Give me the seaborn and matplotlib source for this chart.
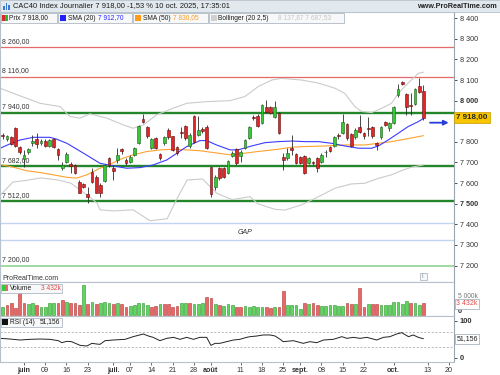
"""
CAC40 journalier (style ProRealTime) : bougies, SMA 20/50, Bollinger,
niveaux horizontaux, volume et RSI.
"""
import numpy as np
import pandas as pd
import seaborn as sns
import matplotlib.pyplot as plt
from matplotlib.patches import Rectangle

# séances : index 0 = 26 mai 2025 ... 99 = 10 oct. 2025
opens = [7832, 7813, 7822, 7866, 7774, 7715, 7751, 7793, 7813, 7793,
         7806, 7780, 7813, 7764, 7672, 7704, 7693, 7688, 7607, 7596,
         7547, 7656, 7631, 7591, 7612, 7720, 7675, 7712, 7764, 7712,
         7701, 7737, 7796, 7910, 7871, 7769, 7817, 7741, 7793, 7858,
         7826, 7774, 7850, 7877, 7780, 7926, 7834, 7861, 7874, 7677,
         7583, 7672, 7672, 7651, 7732, 7764, 7732, 7769, 7817, 7921,
         7926, 7893, 7971, 7968, 7922, 7942, 7728, 7720, 7769, 7741,
         7725, 7732, 7699, 7704, 7720, 7704, 7749, 7774, 7780, 7834,
         7845, 7887, 7839, 7822, 7871, 7845, 7868, 7871, 7796, 7822,
         7898, 7866, 7893, 8028, 8092, 8032, 7979, 7984, 8071, 8049]
highs = [7845, 7835, 7830, 7870, 7778, 7761, 7770, 7834, 7842, 7815,
         7812, 7815, 7820, 7770, 7704, 7750, 7704, 7693, 7615, 7600,
         7583, 7672, 7640, 7600, 7693, 7725, 7688, 7769, 7770, 7720,
         7735, 7775, 7882, 7935, 7877, 7820, 7822, 7745, 7830, 7866,
         7830, 7780, 7874, 7882, 7842, 7931, 7926, 7870, 7880, 7680,
         7640, 7677, 7677, 7712, 7756, 7770, 7760, 7815, 7877, 7931,
         7935, 7985, 8003, 7972, 7998, 7946, 7745, 7770, 7834, 7745,
         7730, 7737, 7728, 7709, 7725, 7745, 7760, 7780, 7830, 7842,
         7935, 7893, 7845, 7866, 7931, 7850, 7919, 7877, 7801, 7877,
         7903, 7898, 7972, 8080, 8095, 8038, 8035, 8060, 8108, 8075]
lows = [7815, 7805, 7785, 7775, 7742, 7680, 7740, 7780, 7769, 7785,
        7775, 7775, 7769, 7712, 7664, 7699, 7647, 7645, 7550, 7575,
        7505, 7600, 7550, 7534, 7607, 7680, 7615, 7699, 7740, 7690,
        7696, 7730, 7790, 7890, 7820, 7764, 7764, 7712, 7785, 7815,
        7756, 7737, 7817, 7809, 7769, 7796, 7826, 7845, 7764, 7530,
        7565, 7615, 7625, 7645, 7725, 7690, 7700, 7764, 7813, 7906,
        7870, 7887, 7940, 7935, 7916, 7838, 7664, 7712, 7737, 7693,
        7693, 7645, 7693, 7690, 7655, 7696, 7725, 7750, 7775, 7815,
        7840, 7810, 7775, 7815, 7842, 7815, 7826, 7820, 7761, 7815,
        7875, 7855, 7887, 8020, 8075, 7930, 7931, 7978, 8035, 7906]
closes = [7826, 7826, 7790, 7780, 7749, 7737, 7764, 7806, 7790, 7806,
          7780, 7809, 7774, 7737, 7688, 7741, 7683, 7651, 7554, 7583,
          7534, 7607, 7554, 7554, 7688, 7688, 7659, 7737, 7756, 7696,
          7725, 7769, 7877, 7897, 7826, 7813, 7769, 7720, 7822, 7822,
          7761, 7745, 7842, 7817, 7834, 7801, 7858, 7855, 7769, 7547,
          7631, 7623, 7631, 7709, 7745, 7696, 7753, 7809, 7871, 7916,
          7877, 7979, 7947, 7942, 7971, 7842, 7712, 7745, 7762, 7699,
          7699, 7651, 7720, 7696, 7672, 7737, 7750, 7757, 7822, 7826,
          7898, 7817, 7780, 7858, 7850, 7826, 7864, 7826, 7785, 7871,
          7882, 7893, 7968, 8055, 8081, 7971, 7975, 8055, 8041, 7918]

# volume en milliers, couleur (g = hausse, r = baisse)
volumes = [2410, 2921, 3636, 2104, 6495, 3431, 3329, 3636, 2921, 2410,
           2410, 3431, 3431, 3431, 4453, 3738, 3431, 3431, 2921, 9039,
           3125, 3942, 3125, 3431, 3738, 3636, 3125, 3431, 3125, 2410,
           2614, 2921, 3534, 3431, 2921, 2410, 2614, 3125, 3329, 3227,
           2410, 2716, 3431, 3431, 3431, 3125, 3329, 3431, 5474, 4964,
           3227, 2921, 2614, 3227, 2921, 2410, 2410, 2614, 2410, 2614,
           2206, 2206, 2206, 1899, 2206, 2206, 7201, 2921, 2921, 2921,
           1593, 3431, 3227, 3431, 2921, 2716, 2716, 2921, 2921, 2716,
           2716, 3431, 3125, 3227, 8018, 2206, 3125, 3227, 3125, 2921,
           2921, 2921, 3738, 3738, 3227, 4147, 3431, 3431, 2921, 3432]
vol_dir = ("grrrrrggrg" "gggrrgrrrg" "rgrgggrgrr" "gggggrrgrr" "rrggrgggrr"
           "grgggrrggg" "ggrrgrrggg" "grgrrggggg" "grrgrrgrrg" "ggggggrggr")

# moyennes mobiles et bandes de Bollinger (position en séances, valeur)
sma20_idx = [-0.6, 1.7, 4.1, 7.2, 11.1, 12.7, 15.1, 19, 22.9, 26, 29.2, 32.3, 35.4,
             38.6, 41, 43.3, 46.4, 48, 50.3, 53.5, 55.4, 58.6, 61.7, 64.8, 68,
             71.1, 74.3, 77.4, 80.5, 83.7, 86.8, 88.4, 90.7, 93.1, 95.4, 97.8, 99]
sma20_val = [7769, 7790, 7809, 7822, 7822, 7813, 7793, 7745, 7696, 7683, 7672, 7675, 7688,
             7712, 7745, 7777, 7806, 7806, 7785, 7761, 7761, 7780, 7796, 7801, 7804,
             7801, 7801, 7793, 7780, 7769, 7769, 7780, 7809, 7842, 7874, 7898, 7913]
sma50_idx = [-0.6, 2.5, 5.6, 8.8, 11.9, 15.1, 17.4, 19.8, 22.9, 25.2, 27.6, 30.7, 33.9,
             37, 40.2, 43.3, 46.4, 49.6, 53.5, 55.4, 60, 64.8, 68, 71, 75.8, 80.5,
             85.2, 88.4, 91.5, 94.7, 97, 99]
sma50_val = [7690, 7677, 7660, 7651, 7640, 7628, 7624, 7640, 7672, 7690, 7715, 7737, 7753,
             7761, 7764, 7761, 7757, 7748, 7737, 7741, 7753, 7764, 7774, 7777, 7780, 7785,
             7785, 7793, 7801, 7813, 7822, 7830]
bbu_idx = [-0.6, 4.1, 8.8, 13.5, 15.8, 18.2, 20.5, 24.5, 28.4, 30.7, 33.1, 36.2, 40.1,
           43.3, 48, 53.5, 57, 60.1, 63.3, 65.6, 70.3, 74.3, 78.2, 80.5, 82.9, 84.5,
           86.8, 89.2, 91.5, 93.1, 95.4, 97.8, 99]
bbu_val = [8060, 8023, 7987, 7971, 7923, 7915, 7936, 7915, 7882, 7866, 7882, 7931, 7963,
           7987, 7995, 8000, 8020, 8068, 8100, 8108, 8100, 8085, 8060, 8035, 7970, 7947,
           7942, 7963, 7987, 8035, 8085, 8132, 8138]
bbl_idx = [-0.6, 2.4, 5.2, 9, 13, 16, 18, 20, 22.2, 22.9, 26, 30.7, 34.7, 38.7, 41, 43.4,
           47, 50.4, 54, 58.2, 60.1, 64, 66.4, 70.3, 74.3, 78.2, 82.1, 85.2, 88.4,
           91.5, 93.9, 96.2, 99]
bbl_val = [7540, 7605, 7612, 7625, 7615, 7600, 7570, 7540, 7503, 7470, 7465, 7470, 7417,
           7427, 7524, 7615, 7620, 7550, 7520, 7534, 7499, 7473, 7469, 7494, 7534, 7575,
           7596, 7599, 7623, 7640, 7661, 7677, 7688]

# RSI (14)
rsi_idx = [-0.6, 1.7, 4.1, 6.4, 8.8, 11.1, 13.1, 13.9, 15.1, 16.2, 18.2, 19.8, 21, 22.1,
           22.9, 24.1, 26, 28.8, 30.7, 33.1, 34.3, 35.4, 37, 38.6, 40.2, 41.7, 43.3,
           44.9, 46.4, 48, 49, 50, 51.1, 52.7, 54.3, 55.8, 57.4, 58.2, 59.8, 61.3, 62.9,
           64.1, 65.3, 66, 68.4, 70.7, 72.3, 73.9, 75.5, 77.8, 79.8, 81, 82.5, 84.1,
           85.7, 88, 89.6, 91.1, 92.7, 93.9, 95.5, 96.6, 97.8, 99]
rsi_val = [52.3, 50.5, 47.8, 49.6, 50.5, 49.6, 46, 40.6, 44.2, 43.3, 33.4, 31.6, 38.8, 37,
           36.1, 46, 47.8, 49.6, 56.8, 64, 58.6, 55, 46, 52.3, 55, 49.6, 55,
           49.6, 55, 55, 33.4, 38.8, 38.8, 43.3, 47.8, 49.6, 55, 56.8, 58.6, 61.4, 61.4,
           58.6, 49.6, 43.3, 46, 38.8, 43.3, 40.6, 47.8, 49.6, 56.8, 52.3, 55, 52.3,
           55, 47.8, 55, 56.8, 64, 67.6, 56.8, 61.4, 55, 51.2]
rsi_last = 51.156
sma20_last, sma50_last = 7912.70, 7830.05
bb_last = (8137.87, 7687.53)

# niveaux tracés
red_levels = [8260, 8116]
green_levels = [7940, 7682, 7512]
gap_levels = [7405, 7324]
base_level = 7200

price_ticks = [8400, 8300, 8200, 8100, 8000, 7800, 7700, 7600, 7500, 7400, 7300, 7200]
bold_ticks = [8000, 7500]
tick_pos = [5, 10, 15, 20, 26, 30, 35, 40, 45, 49, 56, 61, 66, 70, 75, 80, 85, 92, 100, 105]
tick_labels = ['juin', '09', '16', '23', 'juil.', '07', '14', '21', '28', 'août',
               '11', '18', '25', 'sept.', '08', '15', '22', 'oct.', '13', '20']
month_labels = {'juin', 'juil.', 'août', 'sept.', 'oct.'}


def fr(v, dec=2):
    return f"{v:,.{dec}f}".replace(',', ' ').replace('.', ',')


sns.set_theme(style='white')
plt.rcParams['font.family'] = ['Liberation Sans', 'DejaVu Sans']
plt.rcParams['axes.linewidth'] = 0.8

W, H = 500, 375


def fx(px):
    return px / W


def fy(px):
    return 1 - px / H


fig = plt.figure(figsize=(5, 3.75), dpi=100)
ax = fig.add_axes([0, fy(282), fx(454), fy(12) - fy(282)])
ax_vol = fig.add_axes([0, fy(315.5), fx(454), fy(282) - fy(315.5)], sharex=ax)
ax_rsi = fig.add_axes([0, fy(361.7), fx(454), fy(315.5) - fy(361.7)], sharex=ax)

df = pd.DataFrame({'open': opens, 'high': highs, 'low': lows, 'close': closes,
                   'volume': volumes, 'dir': list(vol_dir)})
df['idx'] = np.arange(len(df))
up = df['close'] >= df['open']
body_bottom = np.minimum(df['open'], df['close'])
body_h = np.maximum((df['close'] - df['open']).abs(), 3)

# ---- prix ----
for lvl in red_levels:
    ax.axhline(lvl, color='#e66a6a', lw=0.9, zorder=1)
for lvl in green_levels:
    ax.axhline(lvl, color='#23862a', lw=1.7, zorder=1)
for lvl in gap_levels:
    ax.axhline(lvl, color='#c3d3f3', lw=1.0, zorder=1)
ax.axhline(base_level, color='#9ad69a', lw=1.3, zorder=1)
for lvl in red_levels + green_levels + [base_level]:
    ax.text(0.004, lvl + 12, fr(lvl), transform=ax.get_yaxis_transform(),
            fontsize=5, color='#333333', va='bottom', ha='left')
ax.text(57, 7358, 'GAP', style='italic', fontsize=5, color='#333333',
        ha='center', va='center')

sns.lineplot(x=bbu_idx, y=bbu_val, ax=ax, color='#cbcbcb', lw=0.8, zorder=2)
sns.lineplot(x=bbl_idx, y=bbl_val, ax=ax, color='#cbcbcb', lw=0.8, zorder=2)
sns.lineplot(x=sma50_idx, y=sma50_val, ax=ax, color='#ffa22e', lw=0.8, zorder=2)
sns.lineplot(x=sma20_idx, y=sma20_val, ax=ax, color='#3c3cff', lw=0.8, zorder=2)

ax.vlines(df['idx'], df['low'], df['high'], color='#2a2a2a', lw=0.6, zorder=3)
ax.bar(df['idx'][up], body_h[up], bottom=body_bottom[up], width=0.64,
       color='#36c836', edgecolor='#1d5c1d', lw=0.4, zorder=4)
ax.bar(df['idx'][~up], body_h[~up], bottom=body_bottom[~up], width=0.64,
       color='#e02626', edgecolor='#5c1010', lw=0.4, zorder=4)

ax.annotate('', xy=(105.6, closes[-1] - 25), xytext=(99.9, closes[-1] - 25),
            arrowprops=dict(arrowstyle='-|>', color='#2a3fd8', lw=1.3,
                            mutation_scale=7), annotation_clip=False, zorder=5)

ax.set_xlim(-0.635, 106.2)
ax.set_ylim(7120, 8430)
ax.yaxis.tick_right()
ax.set_yticks(price_ticks)
ax.set_yticklabels([fr(t, 0) for t in price_ticks])
for lab, t in zip(ax.get_yticklabels(), price_ticks):
    if t in bold_ticks:
        lab.set_fontweight('bold')
        lab.set_fontsize(5.6)
ax.tick_params(axis='y', right=True, length=2.5, width=0.6, pad=1.5,
               labelsize=5.2, colors='#333333')
ax.tick_params(axis='x', bottom=False, labelbottom=False)
ax.text(1.005, closes[-1], fr(closes[-1]), transform=ax.get_yaxis_transform(),
        fontsize=5.8, fontweight='bold', va='center', ha='left', clip_on=False,
        bbox=dict(boxstyle='square,pad=0.25', fc='#f7c600', ec='#c89a00', lw=0.5))

# ---- volume ----
vcol = {'g': '#62d462', 'r': '#e86868'}
vedge = {'g': '#2c962c', 'r': '#b43434'}
ax_vol.bar(df['idx'], df['volume'], width=0.66,
           color=[vcol[d] for d in df['dir']],
           edgecolor=[vedge[d] for d in df['dir']], lw=0.4)
ax_vol.set_ylim(-300, 9960)
ax_vol.set_yticks([])
ax_vol.tick_params(axis='x', bottom=False, labelbottom=False)
ax_vol.text(1.008, 5600, '5 000k', transform=ax_vol.get_yaxis_transform(),
            fontsize=4.8, color='#777777', va='center', ha='left', clip_on=False)
ax_vol.text(1.008, -150, '0', transform=ax_vol.get_yaxis_transform(),
            fontsize=5.2, fontweight='bold', color='#333333', va='bottom',
            ha='left', clip_on=False)
ax_vol.text(1.005, volumes[-1] - 200, '3 432k', transform=ax_vol.get_yaxis_transform(),
            fontsize=5, color='#e04848', va='center', ha='left', clip_on=False,
            bbox=dict(boxstyle='square,pad=0.2', fc='white', ec='#9aa6b2', lw=0.5))

# ---- RSI ----
for lvl in (70, 30):
    ax_rsi.axhline(lvl, color='#b0b0b0', lw=0.6, dashes=(2.5, 2))
sns.lineplot(x=rsi_idx, y=rsi_val, ax=ax_rsi, color='#222222', lw=0.7)
ax_rsi.set_ylim(-10.8, 114)
ax_rsi.yaxis.tick_right()
ax_rsi.set_yticks([100, 0])
ax_rsi.set_yticklabels(['100', '0'], fontweight='bold')
ax_rsi.tick_params(axis='y', right=True, length=2.5, width=0.6, pad=1.5,
                   labelsize=5.4, colors='#333333')
ax_rsi.text(1.005, rsi_last, fr(rsi_last, 3), transform=ax_rsi.get_yaxis_transform(),
            fontsize=5, color='#222222', va='center', ha='left', clip_on=False,
            bbox=dict(boxstyle='square,pad=0.2', fc='white', ec='#9aa6b2', lw=0.5))
ax_rsi.set_xticks(tick_pos)
ax_rsi.set_xticklabels(tick_labels)
for lab, t in zip(ax_rsi.get_xticklabels(), tick_labels):
    if t in month_labels:
        lab.set_fontweight('bold')
ax_rsi.tick_params(axis='x', bottom=True, length=2, width=0.5, pad=1.5,
                   labelsize=5.2, colors='#333333')

for a in (ax, ax_vol, ax_rsi):
    a.set_xlabel('')
    a.set_ylabel('')
    for s in a.spines.values():
        s.set_color('#b7c1cb')
        s.set_linewidth(0.8)
    a.spines['right'].set_color('#98a4b0')

# ---- en-tête et légendes ----
fig.patches.append(Rectangle((0, fy(12)), 1, 12 / H, transform=fig.transFigure,
                             fc='#e2e9ee', ec='#b7c1cb', lw=0.6, zorder=0))
for i, h in enumerate([4, 7, 5]):
    fig.patches.append(Rectangle((fx(3 + 2.5 * i), fy(10)), fx(1.6), h / H,
                                 transform=fig.transFigure, fc='#3a78d0', ec='none'))
fig.text(fx(13), fy(6), 'CAC40 Index Journalier 7 918,00 -1,53 % 10 oct. 2025, 17:35:01',
         fontsize=5.4, color='#1a1a1a', va='center', ha='left')
fig.text(fx(497), fy(6.5), 'www.ProRealTime.com', fontsize=5.2, fontweight='bold',
         color='#222222', va='center', ha='right')


def legend_box(x0, x1, y0, y1):
    fig.patches.append(Rectangle((fx(x0), fy(y1)), fx(x1 - x0), (y1 - y0) / H,
                                 transform=fig.transFigure, fc='#f7f8f9',
                                 ec='#b0b9c2', lw=0.6, zorder=5))


def swatch(x0, y0, c, w=6, h=6):
    fig.patches.append(Rectangle((fx(x0), fy(y0 + h)), fx(w), h / H,
                                 transform=fig.transFigure, fc=c, ec='none', zorder=6))


def ftext(x, y, s, color='#1a1a1a', size=4.8, **kw):
    fig.text(fx(x), fy(y), s, fontsize=size, color=color, va='center', ha='left',
             zorder=7, **kw)


legend_box(0.5, 57, 13.5, 22.5)
swatch(1.5, 15, '#d92a2a', w=3)
swatch(4.5, 15, '#2fb82f', w=3)
ftext(9, 18, 'Prix ' + fr(closes[-1]))
legend_box(58, 132, 13.5, 22.5)
swatch(60, 15, '#2020ff')
ftext(68, 18, 'SMA (20)')
ftext(98, 18, fr(sma20_last), color='#2a2aff')
legend_box(133, 208, 13.5, 22.5)
swatch(135, 15, '#ff9a1a')
ftext(143, 18, 'SMA (50)')
ftext(173, 18, fr(sma50_last), color='#ff9a1a')
legend_box(209, 344, 13.5, 22.5)
swatch(211, 15, '#d0d0d0')
ftext(218, 18, 'Bollinger (20 2,5)')
ftext(278, 18, fr(bb_last[0]) + ' ' + fr(bb_last[1]), color='#c4c4c4')

ftext(2, 278, 'ProRealTime.com', color='#333333', size=5)
legend_box(419.5, 427, 272.5, 280)
ftext(422, 276.3, 'i', color='#8a96a2')

legend_box(0.5, 62, 283.5, 292.5)
swatch(2, 285, '#36c836', w=3)
swatch(5, 285, '#e86868', w=3)
ftext(10, 288, 'Volume')
ftext(41, 288, '3 432k', color='#e04848')

legend_box(0.5, 62, 317.5, 326.5)
swatch(2, 319, '#111111')
ftext(10, 322, 'RSI (14)')
ftext(40, 322, fr(rsi_last, 3))

fig.savefig('out.png', dpi=100)
